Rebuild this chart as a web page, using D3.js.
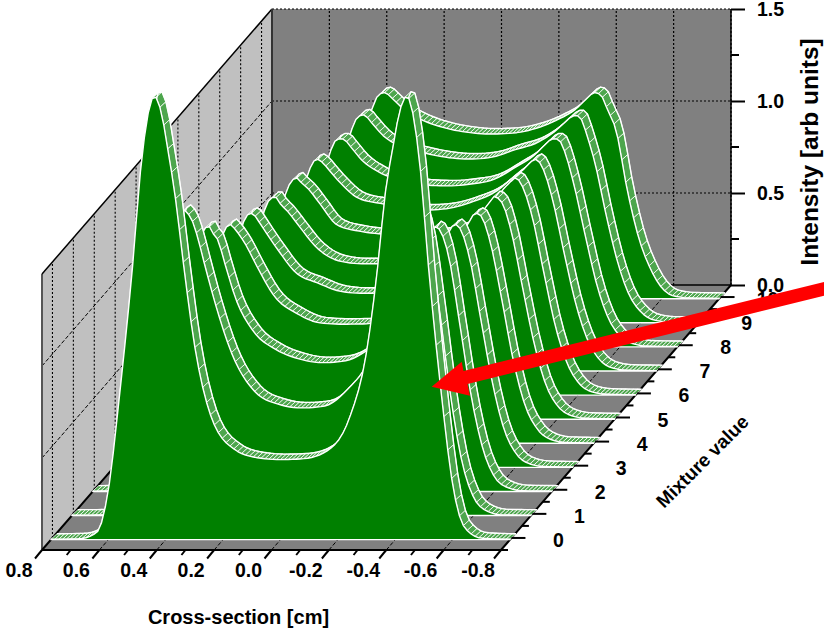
<!DOCTYPE html>
<html>
<head>
<meta charset="utf-8">
<script src="https://cdn.jsdelivr.net/npm/d3@7"></script>
<style>
    html, body { margin: 0; padding: 0; background: #fff; }
    text { font-family: "Liberation Sans", Arial, sans-serif; font-weight: bold; fill: #000; }
</style>
</head>
<body>
<div id="chart"></div>
<script>
// Values, one list per mixture value
const crossSection = [0.8, 0.7, 0.64, 0.6, 0.56, 0.52, 0.48, 0.44, 0.41, 0.395, 0.38, 0.365, 0.34, 0.3, 0.24, 0.16, 0.08, 0,
    -0.08, -0.16, -0.24, -0.3, -0.34, -0.365, -0.38, -0.395, -0.41, -0.44, -0.48, -0.52, -0.56, -0.6, -0.64, -0.7, -0.8];

const mix0 = [0.002, 0.005, 0.04, 0.27, 0.8, 1.41, 2.12, 2.41, 2.28, 2.14, 2.0, 1.84, 1.52, 1.06, 0.66, 0.49, 0.445, 0.435,
    0.44, 0.48, 0.66, 1.02, 1.5, 1.88, 2.03, 2.16, 2.29, 2.41, 2.12, 1.41, 0.8, 0.3, 0.07, 0.008, 0.002];
const mix1 = [0.002, 0.003, 0.027, 0.099, 0.286, 0.645, 1.13, 1.55, 1.66, 1.64, 1.6, 1.53, 1.38, 1.15, 0.87, 0.67, 0.605, 0.585,
    0.595, 0.685, 0.86, 1.15, 1.38, 1.53, 1.6, 1.64, 1.66, 1.55, 1.13, 0.65, 0.29, 0.1, 0.03, 0.004, 0.002];
const mix2 = [0.002, 0.003, 0.022, 0.079, 0.225, 0.506, 0.905, 1.28, 1.43, 1.44, 1.4, 1.37, 1.24, 1.04, 0.87, 0.77, 0.72, 0.7,
    0.71, 0.77, 0.87, 1.04, 1.24, 1.37, 1.41, 1.44, 1.42, 1.28, 0.9, 0.51, 0.23, 0.08, 0.025, 0.004, 0.002];
const mix3 = [0.002, 0.004, 0.023, 0.077, 0.21, 0.459, 0.81, 1.15, 1.3, 1.32, 1.3, 1.27, 1.21, 1.09, 0.93, 0.835, 0.785, 0.778,
    0.78, 0.83, 0.93, 1.08, 1.2, 1.27, 1.31, 1.32, 1.29, 1.14, 0.8, 0.46, 0.21, 0.08, 0.025, 0.005, 0.002];
const mix4 = [0.002, 0.005, 0.026, 0.083, 0.216, 0.456, 0.785, 1.1, 1.235, 1.25, 1.235, 1.2, 1.14, 1.05, 0.93, 0.87, 0.825, 0.815,
    0.82, 0.86, 0.93, 1.05, 1.14, 1.2, 1.24, 1.25, 1.23, 1.09, 0.78, 0.45, 0.21, 0.085, 0.028, 0.005, 0.002];
const mix5 = [0.002, 0.005, 0.024, 0.076, 0.195, 0.413, 0.718, 1.025, 1.175, 1.205, 1.205, 1.17, 1.13, 1.05, 0.935, 0.86, 0.845, 0.845,
    0.845, 0.865, 0.935, 1.05, 1.13, 1.18, 1.21, 1.2, 1.17, 1.02, 0.71, 0.41, 0.19, 0.075, 0.025, 0.005, 0.002];
const mix6 = [0.002, 0.005, 0.022, 0.07, 0.182, 0.386, 0.676, 0.977, 1.133, 1.17, 1.18, 1.155, 1.12, 1.04, 0.925, 0.89, 0.875, 0.865,
    0.87, 0.89, 0.945, 1.04, 1.12, 1.16, 1.18, 1.165, 1.12, 0.97, 0.67, 0.38, 0.18, 0.07, 0.022, 0.005, 0.002];
const mix7 = [0.002, 0.004, 0.021, 0.066, 0.17, 0.361, 0.637, 0.93, 1.09, 1.14, 1.15, 1.135, 1.09, 1.02, 0.94, 0.91, 0.89, 0.875,
    0.885, 0.92, 0.975, 1.05, 1.1, 1.14, 1.15, 1.13, 1.08, 0.92, 0.63, 0.36, 0.17, 0.065, 0.02, 0.004, 0.002];
const mix8 = [0.002, 0.004, 0.02, 0.061, 0.157, 0.337, 0.6, 0.889, 1.058, 1.115, 1.13, 1.13, 1.09, 1.016, 0.95, 0.905, 0.88, 0.875,
    0.885, 0.91, 0.98, 1.04, 1.1, 1.13, 1.13, 1.11, 1.05, 0.88, 0.6, 0.335, 0.155, 0.06, 0.02, 0.004, 0.002];
const mix9 = [0.002, 0.004, 0.02, 0.06, 0.153, 0.327, 0.584, 0.87, 1.04, 1.1, 1.125, 1.13, 1.09, 1.02, 0.96, 0.925, 0.9, 0.89,
    0.9, 0.94, 0.98, 1.04, 1.095, 1.125, 1.125, 1.1, 1.03, 0.87, 0.58, 0.325, 0.15, 0.06, 0.018, 0.004, 0.002];
const mix10 = [0.002, 0.004, 0.018, 0.06, 0.16, 0.33, 0.59, 0.9, 1.03, 1.09, 1.115, 1.12, 1.09, 1.03, 0.975, 0.93, 0.905, 0.895,
    0.9, 0.925, 0.975, 1.03, 1.09, 1.12, 1.115, 1.09, 1.03, 0.92, 0.59, 0.33, 0.165, 0.06, 0.016, 0.004, 0.002];

const mixtures = [mix0, mix1, mix2, mix3, mix4, mix5, mix6, mix7, mix8, mix9, mix10];

const xTicks = [0.8, 0.6, 0.4, 0.2, 0, -0.2, -0.4, -0.6, -0.8];
const xMinorTicks = [0.7, 0.5, 0.3, 0.1, -0.1, -0.3, -0.5, -0.7];
const yTicks = [0, 0.5, 1, 1.5];
const yMinorTicks = [0.25, 0.75, 1.25];
const zTicks = [0, 1, 2, 3, 4, 5, 6, 7, 8, 9, 10];
const zMinorTicks = [-0.5, 0.5, 1.5, 2.5, 3.5, 4.5, 5.5, 6.5, 7.5, 8.5, 9.5];

const width = 824;
const height = 629;

const floorFrontY = 550;
const ribbonSteps = 118; // hatch spacing of the ribbons

// Oblique projection: x runs along the front edge, z goes up and right
const xScale = d3.scaleLinear().domain([0.8, -0.8]).range([42, 501]);
const yScale = d3.scaleLinear().domain([0, 1.5]).range([0, -276]);
const depthX = d3.scaleLinear().domain([-0.5, 10.5]).range([0, 230]);
const depthY = d3.scaleLinear().domain([-0.5, 10.5]).range([0, -265]);

function project(x, z, v) {
    return [xScale(x) + depthX(z), floorFrontY + depthY(z) + yScale(v)];
}

const svg = d3.select('#chart').append('svg')
    .attr('width', width)
    .attr('height', height)
    .style('display', 'block');

const toPath = pts => 'M' + pts.map(p => p[0] + ',' + p[1]).join('L') + 'Z';

// Walls and floor
svg.append('path')
    .attr('d', toPath([project(0.8, -0.5, 0), project(0.8, 10.5, 0), project(0.8, 10.5, 1.5), project(0.8, -0.5, 1.5)]))
    .attr('fill', '#c0c0c0');
svg.append('path')
    .attr('d', toPath([project(0.8, 10.5, 0), project(-0.8, 10.5, 0), project(-0.8, 10.5, 1.5), project(0.8, 10.5, 1.5)]))
    .attr('fill', '#808080');
svg.append('path')
    .attr('d', toPath([project(0.8, -0.5, 0), project(-0.8, -0.5, 0), project(-0.8, 10.5, 0), project(0.8, 10.5, 0)]))
    .attr('fill', '#808080');

// Dashed grid
function segment(parent, a, b, stroke, w, dash) {
    return parent.append('line')
        .attr('x1', a[0]).attr('y1', a[1])
        .attr('x2', b[0]).attr('y2', b[1])
        .attr('stroke', stroke)
        .attr('stroke-width', w)
        .attr('stroke-dasharray', dash || null);
}

const grid = svg.append('g');
const gridDash = '2 2';
xTicks.forEach(x => {
    segment(grid, project(x, 10.5, 0), project(x, 10.5, 1.5), '#000', 1.2, gridDash);
    segment(grid, project(x, -0.5, 0), project(x, 10.5, 0), '#000', 1, '4 2');
});
zTicks.forEach(z => {
    segment(grid, project(0.8, z, 0), project(0.8, z, 1.5), '#000', 1.1, gridDash);
});
[0.5, 1, 1.5].forEach(v => {
    segment(grid, project(0.8, 10.5, v), project(-0.8, 10.5, v), '#000', 1.2, gridDash);
    if (v < 1.5) segment(grid, project(0.8, -0.5, v), project(0.8, 10.5, v), '#000', 1, '4 2');
});

// Frame
const frame = svg.append('g');
segment(frame, project(0.8, -0.5, 0), project(0.8, -0.5, 1.5), '#555', 2);
segment(frame, project(0.8, -0.5, 1.5), project(0.8, 10.5, 1.5), '#000', 1.5);
segment(frame, project(0.8, 10.5, 0), project(0.8, 10.5, 1.5), '#333', 2);
segment(frame, project(-0.8, 10.5, 0), project(-0.8, 10.5, 1.5), '#000', 1.5);
segment(frame, project(0.8, 10.5, 0), project(-0.8, 10.5, 0), '#000', 1.5);
segment(frame, project(0.8, -0.5, 0), project(-0.8, -0.5, 0), '#000', 2);
segment(frame, project(0.8, -0.5, 0), project(0.8, 10.5, 0), '#000', 2);
segment(frame, project(-0.8, -0.5, 0), project(-0.8, 10.5, 0), '#000', 2);

// Monotone spline of one series, read back at evenly spaced x for the ribbon hatches
function sampleSeries(values) {
    const segs = [];
    let last = null;
    const ctx = {
        moveTo(x, y) { last = [x, y]; },
        lineTo(x, y) { last = [x, y]; },
        closePath() {},
        bezierCurveTo(x1, y1, x2, y2, x, y) {
            segs.push({ x0: last[0], x1: x, y0: last[1], c1: y1, c2: y2, y1: y });
            last = [x, y];
        }
    };
    d3.line().curve(d3.curveMonotoneX).context(ctx)(crossSection.map((x, i) => [-x, values[i]]));

    const out = [];
    let k = 0;
    for (let i = 0; i <= ribbonSteps; i++) {
        const x = 0.8 - i * 1.6 / ribbonSteps;
        const u = -x;
        while (k < segs.length - 1 && u > segs[k].x1) k++;
        const s = segs[k];
        const t = Math.min(1, Math.max(0, (u - s.x0) / (s.x1 - s.x0)));
        const m = 1 - t;
        const v = m * m * m * s.y0 + 3 * m * m * t * s.c1 + 3 * m * t * t * s.c2 + t * t * t * s.y1;
        out.push({ x: x, v: v });
    }
    return out;
}

// Curves, from the back to the front
const curves = svg.append('g');
const frontOffset = -0.07;
const ribbonDX = 6;
const ribbonDY = -5.5;

for (let z = mixtures.length - 1; z >= 0; z--) {
    const samples = sampleSeries(mixtures[z]);
    const g = curves.append('g');
    const front = samples.map(d => project(d.x, z + frontOffset, d.v));
    const back = front.map(p => [p[0] + ribbonDX, p[1] + ribbonDY]);

    // Ribbon on top of the curve: thin cross lines, heavier back edge
    d3.pairs(d3.range(front.length)).forEach(pair => {
        const a = pair[0];
        const b = pair[1];
        g.append('path')
            .attr('d', toPath([front[a], front[b], back[b], back[a]]))
            .attr('fill', '#4da64d')
            .attr('stroke', '#fff')
            .attr('stroke-width', 0.8);
    });
    g.append('path')
        .attr('d', d3.line()(back))
        .attr('fill', 'none')
        .attr('stroke', '#fff')
        .attr('stroke-width', 1.4)
        .attr('stroke-linejoin', 'round');

    // Filled skirt under the curve
    const outline = front.concat([project(-0.8, z + frontOffset, 0), project(0.8, z + frontOffset, 0)]);
    g.append('path')
        .attr('d', toPath(outline))
        .attr('fill', '#008000')
        .attr('stroke', '#fff')
        .attr('stroke-width', 1.4)
        .attr('stroke-linejoin', 'round');
}

// Cross-section axis
const xAxis = svg.append('g');
xTicks.forEach(x => {
    const p = project(x, -0.5, 0);
    segment(xAxis, p, [p[0] - 7, p[1] + 8.5], '#000', 2);
    xAxis.append('text')
        .attr('x', p[0] - 23)
        .attr('y', p[1] + 27)
        .attr('text-anchor', 'middle')
        .style('font-size', '19.5px')
        .text(d3.format('.1f')(x).replace('−', '-'));
});
xMinorTicks.forEach(x => {
    const p = project(x, -0.5, 0);
    segment(xAxis, p, [p[0] - 4, p[1] + 5], '#000', 2);
});
xAxis.append('text')
    .attr('x', 238.5)
    .attr('y', 624)
    .attr('text-anchor', 'middle')
    .style('font-size', '20px')
    .text('Cross-section [cm]');

// Intensity axis, on the right edge of the back wall
const yAxisScale = d3.scaleLinear().domain([0, 1.5]).range([project(-0.8, 10.5, 0)[1], project(-0.8, 10.5, 1.5)[1]]);
const yAxis = svg.append('g')
    .attr('transform', `translate(${project(-0.8, 10.5, 0)[0]},0)`)
    .call(d3.axisRight(yAxisScale).tickValues(yTicks).tickFormat(d3.format('.1f')).tickSize(14).tickPadding(12));
yAxis.select('.domain').remove();
yAxis.selectAll('.tick line').attr('stroke', '#000').attr('stroke-width', 2);
yAxis.selectAll('.tick text').style('font-size', '19.5px');
yAxis.attr('font-family', null).attr('font-size', null);
yMinorTicks.forEach(v => {
    yAxis.append('line')
        .attr('x1', 0).attr('x2', 8)
        .attr('y1', yAxisScale(v)).attr('y2', yAxisScale(v))
        .attr('stroke', '#000').attr('stroke-width', 2);
});
svg.append('text')
    .attr('transform', 'translate(818,152) rotate(-90)')
    .attr('text-anchor', 'middle')
    .style('font-size', '24.5px')
    .text('Intensity [arb units]');

// Mixture axis, on the right edge of the floor
const zAxis = svg.append('g');
zTicks.forEach(z => {
    const p = project(-0.8, z, 0);
    segment(zAxis, p, [p[0] + 14, p[1]], '#000', 2);
    zAxis.append('text')
        .attr('x', p[0] + 47)
        .attr('y', p[1] + 9)
        .attr('text-anchor', 'middle')
        .style('font-size', '19.5px')
        .text(z);
});
zMinorTicks.forEach(z => {
    const p = project(-0.8, z, 0);
    segment(zAxis, p, [p[0] + 7, p[1]], '#000', 2);
});
zAxis.append('text')
    .attr('transform', 'translate(707,466) rotate(-45)')
    .attr('text-anchor', 'middle')
    .style('font-size', '19px')
    .text('Mixture value');

// Red arrow pointing at the front curve
svg.append('path')
    .attr('d', 'M431.7,386.7L461.7,361.7L463.5,371L824,282L824,295.7L467.5,384L470,395.7Z')
    .attr('fill', '#ff0000');
</script>
</body>
</html>
